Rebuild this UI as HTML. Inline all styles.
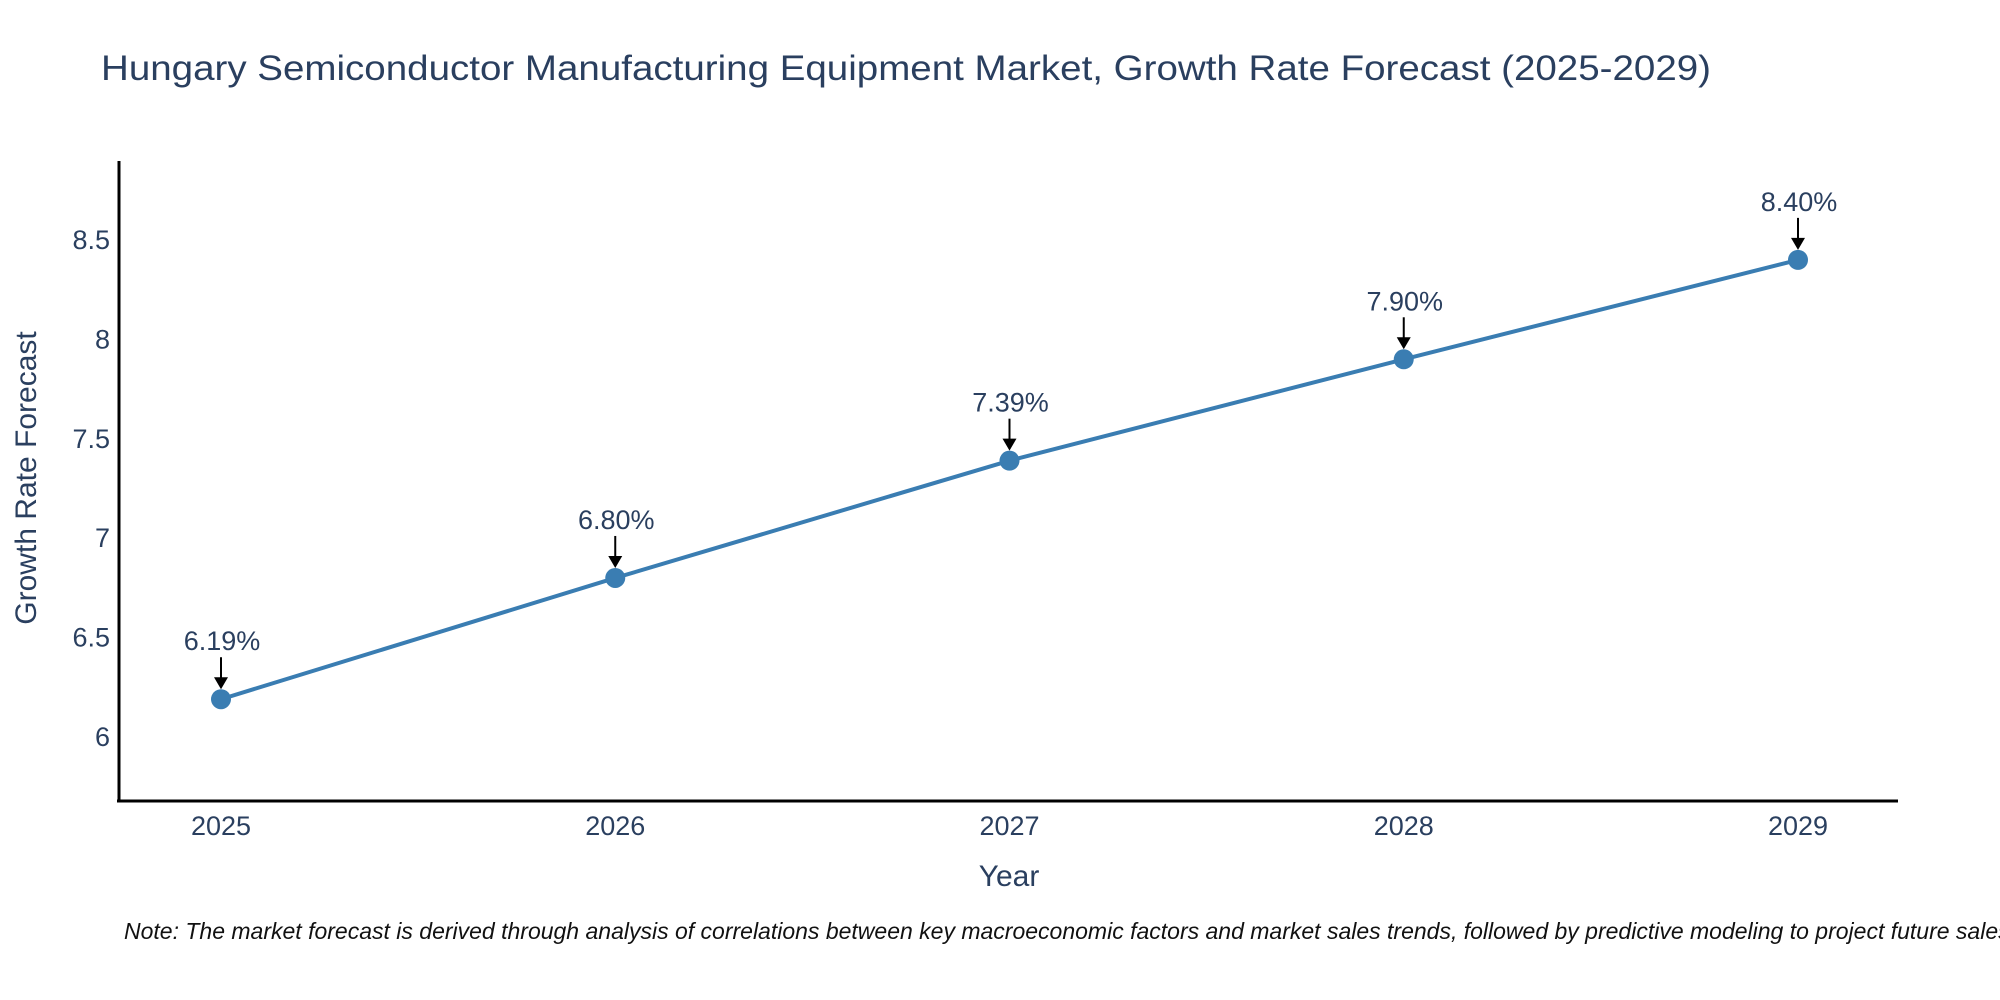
<!DOCTYPE html>
<html><head><meta charset="utf-8"><style>
html,body{margin:0;padding:0;background:#fff;width:2000px;height:1000px;overflow:hidden}
text{font-family:"Liberation Sans","DejaVu Sans",sans-serif;fill:#2a3f5f}
</style></head><body>
<svg id="chart" width="2000" height="1000" xmlns="http://www.w3.org/2000/svg">
<text x="101" y="80" font-size="35" textLength="1610" lengthAdjust="spacingAndGlyphs">Hungary Semiconductor Manufacturing Equipment Market, Growth Rate Forecast (2025-2029)</text>
<g id="yticks"></g>
<g id="xticks"></g>
<g id="series"></g>
<g id="annos"></g>
<line x1="119" y1="161" x2="119" y2="802" stroke="#000" stroke-width="3"/>
<line x1="117" y1="801" x2="1898" y2="801" stroke="#000" stroke-width="3"/>
<text x="0" y="0" font-size="30" text-anchor="middle" transform="translate(36,478) rotate(-90)">Growth Rate Forecast</text>
<text x="1009" y="886" font-size="30" text-anchor="middle">Year</text>
<text x="124" y="939" font-size="23" font-style="italic" style="fill:#111">Note: The market forecast is derived through analysis of correlations between key macroeconomic factors and market sales trends, followed by predictive modeling to project future sales.</text>
</svg>
<script>
const years = ["2025","2026","2027","2028","2029"];
const values = [6.19, 6.80, 7.39, 7.90, 8.40];
const labels = ["6.19%","6.80%","7.39%","7.90%","8.40%"];
const yTicks = [6, 6.5, 7, 7.5, 8, 8.5];
const yTickLabels = ["6","6.5","7","7.5","8","8.5"];
const NS="http://www.w3.org/2000/svg";
function xs(i){return 221 + i*394.25;}
function ys(v){return 737 - (v-6)*198.8;}
function mk(tag,attrs,parent){const e=document.createElementNS(NS,tag);for(const k in attrs)e.setAttribute(k,attrs[k]);parent.appendChild(e);return e;}
const yt=document.getElementById('yticks');
yTicks.forEach((v,i)=>{const t=mk('text',{x:110,y:ys(v)+9,'font-size':27,'text-anchor':'end'},yt);


t.textContent=yTickLabels[i];});
const xt=document.getElementById('xticks');
years.forEach((y,i)=>{const t=mk('text',{x:xs(i),y:835,'font-size':27,'text-anchor':'middle'},xt);


t.textContent=y;});
const s=document.getElementById('series');
const pl=mk('polyline',{points:values.map((v,i)=>xs(i)+','+ys(v)).join(' '),fill:'none',stroke:'#3a7db2','stroke-width':4},s);


values.forEach((v,i)=>{const c=mk('circle',{cx:xs(i),cy:ys(v),r:10,fill:'#3a7db2'},s);

});
const a=document.getElementById('annos');
values.forEach((v,i)=>{const x=xs(i),y=ys(v);
const g=mk('g',{},a);


mk('line',{x1:x,y1:y-42,x2:x,y2:y-20,stroke:'#000','stroke-width':2},g);
mk('polygon',{points:`${x-7},${y-22} ${x+7},${y-22} ${x},${y-10}`,fill:'#000'},g);
const t=mk('text',{x:x+1,y:y-49,'font-size':27,'text-anchor':'middle'},g);
t.textContent=labels[i];});
</script>
</body></html>
